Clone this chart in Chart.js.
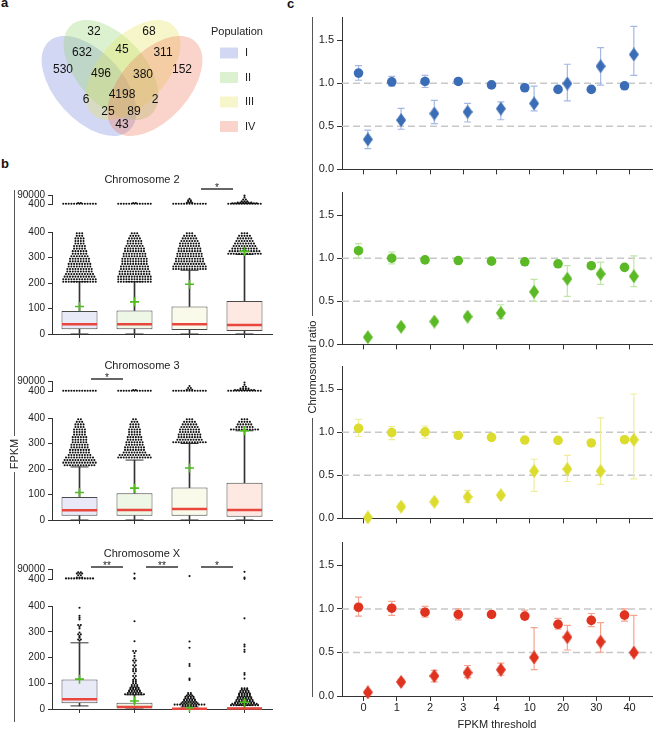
<!DOCTYPE html>
<html><head><meta charset="utf-8">
<script src="https://cdn.jsdelivr.net/npm/chart.js@4.4.1/dist/chart.umd.min.js"></script>
<style>
body{margin:0;background:#fff;width:659px;height:730px;position:relative;overflow:hidden;font-family:'Liberation Sans',Arial,Helvetica,sans-serif;color:#222;}
canvas{position:absolute;}
.plbl{position:absolute;font-weight:bold;font-size:13px;line-height:13px;color:#111;}
</style></head><body>
<div class="plbl" style="left:1px;top:-4px">a</div>
<div class="plbl" style="left:1px;top:157px">b</div>
<div class="plbl" style="left:287px;top:-3px">c</div>
<script>
// ================= DATA =================
// Panel a: Venn
const populations = ['I', 'II', 'III', 'IV'];
const vennCounts = [530, 32, 68, 152, 632, 45, 311, 496, 380, 4198, 6, 2, 25, 89, 43];

// Panel b: box plots (FPKM)
const chr2Q1 = [19, 19, 16, 12];
const chr2Med = [38, 38, 38, 35];
const chr2Q3 = [90, 92, 108, 129];
const chr2Lo = [0, 0, 0, 0];
const chr2Hi = [205, 205, 250, 312];
const chr2Mean = [108, 126, 195, 324];

const chr3Q1 = [17, 17, 17, 13];
const chr3Med = [38, 39, 43, 39];
const chr3Q3 = [90, 105, 127, 146];
const chr3Lo = [0, 0, 0, 0];
const chr3Hi = [208, 235, 300, 350];
const chr3Mean = [108, 125, 204, 350];

const chrXQ1 = [22, 3, 0, 0];
const chrXMed = [38, 8, 1, 2];
const chrXQ3 = [115, 24, 3, 6];
const chrXLo = [12, 0, 0, 0];
const chrXHi = [257, 55, 8, 14];
const chrXMean = [116, 31, 5, 26];

// outlier rows (FPKM bin value) and dot counts per row for chr 2 and 3
const swarmBins = [205, 215, 225, 235, 245, 255, 265, 275, 285, 295, 305, 315, 325, 335, 345, 355, 365, 375, 385, 395];
const chr2Swarm = [
  [13, 13, 12, 11, 10, 10, 9, 9, 8, 8, 7, 6, 6, 5, 5, 4, 4, 4, 3, 3],
  [13, 13, 13, 12, 12, 11, 11, 10, 10, 10, 9, 9, 8, 8, 7, 6, 6, 5, 4, 3],
  [0, 0, 0, 0, 0, 13, 13, 12, 11, 11, 10, 10, 9, 9, 8, 8, 7, 6, 5, 3],
  [0, 0, 0, 0, 0, 0, 0, 0, 0, 0, 0, 13, 12, 10, 9, 8, 7, 6, 5, 3]
];
const chr3Swarm = [
  [0, 12, 13, 12, 11, 9, 8, 8, 7, 7, 6, 6, 6, 5, 5, 5, 4, 4, 3, 2],
  [0, 0, 0, 0, 13, 12, 9, 8, 8, 7, 7, 6, 6, 5, 5, 5, 4, 4, 3, 2],
  [0, 0, 0, 0, 0, 0, 0, 0, 0, 0, 13, 10, 9, 9, 8, 8, 7, 6, 5, 3],
  [0, 0, 0, 0, 0, 0, 0, 0, 0, 0, 0, 0, 0, 0, 0, 11, 7, 6, 5, 3]
];
// chr X outliers: [FPKM, number of dots]
const chrXSwarm = [
  [[265, 1], [270, 2], [277, 1], [283, 1], [290, 2], [297, 1], [313, 1], [320, 1], [326, 2], [348, 1], [355, 1], [362, 1], [393, 1]],
  [[57, 8], [62, 6], [67, 5], [72, 5], [77, 4], [82, 4], [87, 3], [93, 3], [100, 2], [106, 2], [113, 2], [120, 1], [128, 2], [138, 1], [147, 2], [155, 2], [163, 1], [170, 2], [180, 1], [188, 2], [196, 1], [206, 1], [217, 1], [225, 2], [263, 1], [341, 1]],
  [[12, 6], [17, 12], [22, 7], [27, 6], [32, 5], [37, 5], [42, 4], [47, 4], [52, 3], [57, 2], [62, 2], [113, 1], [118, 1], [167, 1], [175, 1], [238, 1], [262, 1]],
  [[15, 11], [20, 10], [25, 8], [30, 7], [35, 7], [40, 6], [45, 6], [50, 5], [55, 5], [60, 5], [65, 4], [70, 4], [75, 3], [80, 3], [118, 1], [133, 1], [140, 1], [222, 1], [230, 1], [243, 1], [250, 1], [352, 1]]
];
// values above 400 (upper broken segment): [FPKM, number of dots]
const chr2Top = [
  [[450, 13], [700, 2]],
  [[450, 13], [700, 2]],
  [[450, 13], [800, 3], [1500, 2], [3500, 2], [9000, 1]],
  [[450, 13], [650, 10], [1000, 6], [2000, 3], [6000, 2], [20000, 1], [60000, 1]]
];
const chr3Top = [
  [[450, 13]],
  [[450, 13], [700, 2]],
  [[450, 13], [800, 3], [2000, 2], [6000, 1]],
  [[450, 13], [700, 8], [1500, 4], [4000, 2], [12000, 1], [40000, 1]]
];
const chrXTop = [
  [[550, 11], [900, 3], [3000, 2], [8000, 3], [15000, 2]],
  [[450, 1], [700, 1], [7400, 1]],
  [[1900, 1]],
  [[430, 1], [900, 1], [19000, 1]]
];
const chr2Sig = [[2, 3, '*']];
const chr3Sig = [[0, 1, '*']];
const chrXSig = [[0, 1, '**'], [1, 2, '**'], [2, 3, '*']];
const yTicksLow = [0, 100, 200, 300, 400];
const yTicksHigh = [400, 90000];

// Panel c: chromosomal ratio
const thresholds = ['0', '1', '2', '3', '4', '10', '20', '30', '40'];
const ratioTicks = [0, 0.5, 1.0, 1.5];
const refLines = [0.5, 1.0];

const blueCirc   = [1.117, 1.015, 1.02, 1.02, 0.98, 0.947, 0.928, 0.928, 0.97];
const blueCircLo = [1.034, 0.965, 0.95, 0.99, 0.96, 0.93, 0.915, 0.915, 0.955];
const blueCircHi = [1.205, 1.08, 1.09, 1.05, 1.0, 0.965, 0.94, 0.94, 0.985];
const blueDiam   = [0.348, 0.572, 0.648, 0.667, 0.705, 0.765, 0.996, 1.197, 1.333];
const blueDiamLo = [0.24, 0.466, 0.53, 0.55, 0.576, 0.68, 0.795, 0.977, 1.09];
const blueDiamHi = [0.455, 0.708, 0.80, 0.765, 0.784, 0.966, 1.22, 1.413, 1.659];

const greenCirc   = [1.087, 1.0, 0.98, 0.973, 0.966, 0.958, 0.935, 0.913, 0.894];
const greenCircLo = [1.0, 0.935, 0.95, 0.955, 0.95, 0.94, 0.91, 0.878, 0.864];
const greenCircHi = [1.17, 1.07, 1.01, 0.99, 0.98, 0.98, 0.96, 0.948, 0.924];
const greenDiam   = [0.083, 0.205, 0.265, 0.322, 0.364, 0.61, 0.761, 0.818, 0.79];
const greenDiamLo = [0.07, 0.18, 0.24, 0.30, 0.30, 0.5, 0.557, 0.697, 0.67];
const greenDiamHi = [0.10, 0.23, 0.29, 0.35, 0.46, 0.754, 0.913, 0.955, 1.026];

const yellowCirc   = [1.045, 0.996, 1.004, 0.962, 0.94, 0.909, 0.905, 0.875, 0.913];
const yellowCircLo = [0.95, 0.913, 0.93, 0.93, 0.91, 0.89, 0.89, 0.845, 0.873];
const yellowCircHi = [1.148, 1.064, 1.072, 0.99, 0.97, 0.93, 0.92, 0.905, 0.953];
const yellowDiam   = [0.011, 0.136, 0.193, 0.25, 0.27, 0.549, 0.572, 0.549, 0.913];
const yellowDiamLo = [0.0, 0.106, 0.163, 0.186, 0.24, 0.314, 0.428, 0.394, 0.458];
const yellowDiamHi = [0.02, 0.165, 0.223, 0.326, 0.30, 0.686, 0.731, 1.167, 1.443];

const redCirc   = [1.019, 1.008, 0.962, 0.936, 0.936, 0.917, 0.823, 0.868, 0.928];
const redCircLo = [0.917, 0.925, 0.906, 0.875, 0.906, 0.88, 0.766, 0.796, 0.86];
const redCircHi = [1.136, 1.087, 1.03, 1.0, 0.966, 0.985, 0.89, 0.947, 1.0];
const redDiam   = [0.042, 0.162, 0.23, 0.268, 0.302, 0.442, 0.675, 0.623, 0.498];
const redDiamLo = [0.025, 0.135, 0.162, 0.21, 0.238, 0.302, 0.528, 0.502, 0.47];
const redDiamHi = [0.06, 0.19, 0.294, 0.35, 0.377, 0.785, 0.811, 0.842, 0.925];

// ================= STYLE / LAYOUT =================
const FONT = "'Liberation Sans', Arial, Helvetica, sans-serif";
Chart.defaults.font.family = FONT;
Chart.defaults.color = '#222';
Chart.defaults.animation = false;
Chart.defaults.events = [];
Chart.defaults.plugins.legend.display = false;
Chart.defaults.plugins.tooltip.enabled = false;

const vennColors = ['rgba(105,125,215,0.30)', 'rgba(140,210,100,0.30)', 'rgba(228,226,80,0.30)', 'rgba(240,110,80,0.30)'];
const vennEllipses = [
  {cx: 89, cy: 86, rx: 60, ry: 34, rot: 48},
  {cx: 111, cy: 70, rx: 60, ry: 34, rot: 48},
  {cx: 133, cy: 70, rx: 60, ry: 34, rot: -48},
  {cx: 155, cy: 86, rx: 60, ry: 34, rot: -48}
];
const vennLabelPos = [[63,70],[94,32],[149,32],[182,70],[82,53],[122,50],[163,53],[101,74],[143,75],[122,95],[86,100],[155,100],[108,112],[134,112],[122,125]];
const boxFills = ['#e8eaf8', '#eef6e6', '#f9faea', '#fde8e2'];
const DOT_STEP = 2.7 / 55;
const DOT_R = 1.05;

function mkCanvas(left, top, w, h) {
  const c = document.createElement('canvas');
  c.width = w; c.height = h;
  c.style.left = left + 'px'; c.style.top = top + 'px';
  c.style.width = w + 'px'; c.style.height = h + 'px';
  document.body.appendChild(c);
  return c;
}

// ---------- axis group labels (brackets) ----------
(function () {
  const cv = mkCanvas(0, 0, 659, 730);
  const g = cv.getContext('2d');
  g.strokeStyle = '#555'; g.lineWidth = 1;
  g.beginPath();
  g.moveTo(14.5, 190); g.lineTo(14.5, 436);
  g.moveTo(14.5, 472); g.lineTo(14.5, 722);
  g.moveTo(312.5, 17); g.lineTo(312.5, 316);
  g.moveTo(312.5, 418); g.lineTo(312.5, 697);
  g.stroke();
  g.fillStyle = '#222';
  g.font = '11px ' + FONT;
  g.textAlign = 'center'; g.textBaseline = 'middle';
  g.save(); g.translate(15, 454); g.rotate(-Math.PI / 2); g.fillText('FPKM', 0, 0); g.restore();
  g.save(); g.translate(313, 367); g.rotate(-Math.PI / 2); g.fillText('Chromosomal ratio', 0, 0); g.restore();
})();

// ---------- Panel a ----------
(function () {
  const cv = mkCanvas(0, 0, 300, 150);
  const vennPlugin = {
    id: 'venn',
    afterDatasetsDraw(chart) {
      const ctx = chart.ctx, xs = chart.scales.x, ys = chart.scales.y;
      const ux = xs.getPixelForValue(1) - xs.getPixelForValue(0);
      const uy = ys.getPixelForValue(1) - ys.getPixelForValue(0);
      ctx.save();
      vennEllipses.forEach((e, i) => {
        ctx.beginPath();
        ctx.ellipse(xs.getPixelForValue(e.cx), ys.getPixelForValue(e.cy), e.rx * ux, e.ry * Math.abs(uy), e.rot * Math.PI / 180, 0, Math.PI * 2);
        ctx.fillStyle = vennColors[i];
        ctx.fill();
      });
      ctx.fillStyle = '#111';
      ctx.font = '12px ' + FONT;
      ctx.textAlign = 'center'; ctx.textBaseline = 'middle';
      vennCounts.forEach((n, i) => {
        ctx.fillText(String(n), xs.getPixelForValue(vennLabelPos[i][0]), ys.getPixelForValue(vennLabelPos[i][1]));
      });
      // legend
      ctx.font = '11px ' + FONT;
      ctx.textAlign = 'left';
      ctx.fillStyle = '#222';
      ctx.fillText('Population', 211, 32);
      populations.forEach((p, i) => {
        const cy = 53 + i * 24.5;
        ctx.fillStyle = vennColors[i];
        ctx.fillRect(220, cy - 5.5, 18, 11);
        ctx.fillStyle = '#222';
        ctx.fillText(p, 245, cy);
      });
      ctx.restore();
    }
  };
  new Chart(cv, {
    type: 'scatter',
    data: {datasets: [{data: []}]},
    options: {
      responsive: false, devicePixelRatio: 1,
      layout: {padding: 0},
      scales: {
        x: {type: 'linear', display: false, min: 0, max: 300},
        y: {type: 'linear', display: false, min: 0, max: 150, reverse: true}
      }
    },
    plugins: [vennPlugin]
  });
})();

// ---------- Panel b ----------
function rowsToPoints(rows, cat) {
  const pts = [];
  rows.forEach(([y, n]) => {
    for (let k = 0; k < n; k++) pts.push({x: cat + (k - (n - 1) / 2) * DOT_STEP, y: y});
  });
  return pts;
}

function sigPlugin(sig, off) {
  return {
    id: 'sig',
    afterDraw(chart) {
      const ctx = chart.ctx, xs = chart.scales.x;
      const y = chart.chartArea.top + off;
      ctx.save();
      ctx.strokeStyle = '#333'; ctx.lineWidth = 1.5;
      ctx.fillStyle = '#222'; ctx.font = '10px ' + FONT;
      ctx.textAlign = 'center'; ctx.textBaseline = 'alphabetic';
      sig.forEach(([a, b, t]) => {
        const cx = xs.getPixelForValue((a + b) / 2);
        ctx.beginPath(); ctx.moveTo(cx - 16, y); ctx.lineTo(cx + 16, y); ctx.stroke();
        ctx.fillText(t, cx, y + 1.5);
      });
      ctx.restore();
    }
  };
}

function boxPanel(cfg) {
  const L = 12, W = 280;
  // upper (broken) segment
  const topH = cfg.topArea[1] - cfg.topArea[0];
  const cvT = mkCanvas(L, cfg.topArea[0] - 26, W, 26 + topH + 6);
  const topPts = [];
  cfg.top.forEach((rows, i) => topPts.push(...rowsToPoints(rows, i)));
  new Chart(cvT, {
    type: 'scatter',
    data: {datasets: [{data: topPts, pointRadius: DOT_R, pointBackgroundColor: '#111', pointBorderWidth: 0, clip: false}]},
    options: {
      responsive: false, devicePixelRatio: 1,
      layout: {padding: {left: 0, right: 20, top: 0, bottom: 6}},
      plugins: {title: {display: true, text: cfg.title, color: '#222', font: {size: 11, weight: 'normal'}, padding: {top: 4.4, bottom: 8.4}}},
      scales: {
        x: {type: 'linear', display: false, offset: false, min: -0.5, max: 3.5},
        y: {
          type: 'logarithmic', min: 400, max: 90000,
          afterBuildTicks: s => { s.ticks = yTicksHigh.map(v => ({value: v})); },
          afterFit: s => { s.width = 40; },
          ticks: {callback: v => String(v), font: {size: 10}, padding: 3, color: '#222', autoSkip: false},
          grid: {drawOnChartArea: false, tickLength: 4, color: '#333'},
          border: {color: '#333'}
        }
      }
    },
    plugins: [sigPlugin(cfg.sig, cfg.sigOff)]
  });

  // lower segment
  const botH = cfg.botArea[1] - cfg.botArea[0];
  const cvB = mkCanvas(L, cfg.botArea[0] - 7, W, 7 + botH + 8);
  const dots = [];
  cfg.swarm.forEach((rows, i) => dots.push(...rowsToPoints(rows, i)));
  const pt = (arr) => arr.map((v, i) => ({x: i, y: v}));
  new Chart(cvB, {
    type: 'bar',
    data: {
      labels: populations,
      datasets: [
        {type: 'scatter', xAxisID: 'xs', data: pt(cfg.mean), pointStyle: 'cross', pointRadius: 4.5, pointBorderColor: '#4fbd1d', pointBorderWidth: 1.6, clip: false},
        {type: 'scatter', xAxisID: 'xs', data: pt(cfg.med), pointStyle: 'line', pointRadius: 17.5, pointBorderColor: '#e8473e', pointBorderWidth: 2.5, clip: false},
        {type: 'scatter', xAxisID: 'xs', data: dots, pointRadius: DOT_R, pointBackgroundColor: '#111', pointBorderWidth: 0, clip: false},
        {type: 'scatter', xAxisID: 'xs', data: pt(cfg.hi).concat(pt(cfg.lo)), pointStyle: 'line', pointRadius: 9, pointBorderColor: '#333', pointBorderWidth: 1, clip: false},
        {type: 'bar', data: cfg.q1.map((v, i) => [v, cfg.q3[i]]), backgroundColor: boxFills, borderColor: '#4a4a4a', borderWidth: 1, borderSkipped: false, barPercentage: 0.655, categoryPercentage: 1, grouped: false},
        {type: 'bar', data: cfg.q3.map((v, i) => [v, cfg.hi[i]]), backgroundColor: '#333', barThickness: 1, grouped: false},
        {type: 'bar', data: cfg.lo.map((v, i) => [v, cfg.q1[i]]), backgroundColor: '#333', barThickness: 1, grouped: false}
      ]
    },
    options: {
      responsive: false, devicePixelRatio: 1,
      layout: {padding: {left: 0, right: 20, top: 7, bottom: 0}},
      scales: {
        x: {
          type: 'category', offset: true,
          afterFit: s => { s.height = 8; },
          ticks: {display: false},
          grid: {drawOnChartArea: false, offset: false, tickLength: 4, color: '#333'},
          border: {color: '#333'}
        },
        xs: {type: 'linear', display: false, offset: false, grace: 0, min: -0.5, max: 3.5},
        y: {
          type: 'linear', min: 0, max: 400,
          afterBuildTicks: s => { s.ticks = yTicksLow.map(v => ({value: v})); },
          afterFit: s => { s.width = 40; },
          ticks: {font: {size: 10}, padding: 3, color: '#222'},
          grid: {drawOnChartArea: false, tickLength: 4, color: '#333'},
          border: {color: '#333'}
        }
      }
    }
  });
}

boxPanel({title: 'Chromosome 2', topArea: [195, 207], botArea: [219, 346],
  q1: chr2Q1, med: chr2Med, q3: chr2Q3, lo: chr2Lo, hi: chr2Hi, mean: chr2Mean,
  swarm: chr2Swarm.map(c => swarmBins.map((b, i) => [b, c[i]])), top: chr2Top, sig: chr2Sig, sigOff: -6});
boxPanel({title: 'Chromosome 3', topArea: [381, 394], botArea: [405, 532],
  q1: chr3Q1, med: chr3Med, q3: chr3Q3, lo: chr3Lo, hi: chr3Hi, mean: chr3Mean,
  swarm: chr3Swarm.map(c => swarmBins.map((b, i) => [b, c[i]])), top: chr3Top, sig: chr3Sig, sigOff: -2});
boxPanel({title: 'Chromosome X', topArea: [569, 582], botArea: [593, 721],
  q1: chrXQ1, med: chrXMed, q3: chrXQ3, lo: chrXLo, hi: chrXHi, mean: chrXMean,
  swarm: chrXSwarm, top: chrXTop, sig: chrXSig, sigOff: -2});

// ---------- Panel c ----------
function diamondImg(color) {
  const c = document.createElement('canvas');
  c.width = 10; c.height = 14;
  const g = c.getContext('2d');
  g.fillStyle = color;
  g.beginPath(); g.moveTo(5, 0); g.lineTo(10, 7); g.lineTo(5, 14); g.lineTo(0, 7); g.closePath(); g.fill();
  return c;
}

function ratioChart(cfg) {
  const areaH = 155;
  const bottomH = cfg.showX ? 36 : 8;
  const cv = mkCanvas(300, cfg.top - 8, 359, 8 + areaH + bottomH);
  const CO = -0.15, DO = 0.13;
  const errPlugin = {
    id: 'err',
    beforeDatasetsDraw(chart) {
      const ctx = chart.ctx, xs = chart.scales.x, ys = chart.scales.y, a = chart.chartArea;
      ctx.save();
      ctx.strokeStyle = '#c8c8c8'; ctx.lineWidth = 1.5; ctx.setLineDash([7, 4]);
      refLines.forEach(v => {
        const y = ys.getPixelForValue(v);
        ctx.beginPath(); ctx.moveTo(a.left, y); ctx.lineTo(a.right, y); ctx.stroke();
      });
      ctx.setLineDash([]);
      ctx.strokeStyle = cfg.err; ctx.lineWidth = 1.2;
      [[CO, cfg.cLo, cfg.cHi], [DO, cfg.dLo, cfg.dHi]].forEach(([o, lo, hi]) => {
        lo.forEach((l, i) => {
          const x = xs.getPixelForValue(i + o);
          const y1 = ys.getPixelForValue(l), y2 = ys.getPixelForValue(hi[i]);
          ctx.beginPath();
          ctx.moveTo(x, y1); ctx.lineTo(x, y2);
          ctx.moveTo(x - 3.5, y1); ctx.lineTo(x + 3.5, y1);
          ctx.moveTo(x - 3.5, y2); ctx.lineTo(x + 3.5, y2);
          ctx.stroke();
        });
      });
      ctx.restore();
    }
  };
  new Chart(cv, {
    type: 'scatter',
    data: {datasets: [
      {data: cfg.c.map((v, i) => ({x: i + CO, y: v})), pointStyle: 'circle', pointRadius: 4.8, pointBackgroundColor: cfg.col, pointBorderWidth: 0, clip: false},
      {data: cfg.d.map((v, i) => ({x: i + DO, y: v})), pointStyle: diamondImg(cfg.col), pointRadius: 6, clip: false}
    ]},
    options: {
      responsive: false, devicePixelRatio: 1,
      layout: {padding: {left: 0, right: 0, top: 8, bottom: 0}},
      scales: {
        x: {
          type: 'linear', min: -0.647, max: 8.676,
          afterBuildTicks: s => { s.ticks = thresholds.map((t, i) => ({value: i})); },
          afterFit: s => { s.height = bottomH; },
          ticks: {display: cfg.showX, callback: v => thresholds[v], font: {size: 11}, padding: 0, color: '#222', autoSkip: false, maxRotation: 0},
          title: {display: cfg.showX, text: 'FPKM threshold', font: {size: 11}, color: '#222', padding: {top: 0, bottom: 0}},
          grid: {drawOnChartArea: false, tickLength: 5, color: '#333'},
          border: {color: '#333'}
        },
        y: {
          type: 'linear', min: 0, max: 1.761,
          afterBuildTicks: s => { s.ticks = ratioTicks.map(v => ({value: v})); },
          afterFit: s => { s.width = 42; },
          ticks: {callback: v => v.toFixed(1), font: {size: 11}, padding: 3, color: '#222'},
          grid: {drawOnChartArea: false, tickLength: 5, color: '#333'},
          border: {color: '#333'}
        }
      }
    },
    plugins: [errPlugin]
  });
}

ratioChart({top: 16, c: blueCirc, cLo: blueCircLo, cHi: blueCircHi, d: blueDiam, dLo: blueDiamLo, dHi: blueDiamHi, col: '#3a6db5', err: '#a5b8e3', showX: false});
ratioChart({top: 191, c: greenCirc, cLo: greenCircLo, cHi: greenCircHi, d: greenDiam, dLo: greenDiamLo, dHi: greenDiamHi, col: '#5ab924', err: '#bfe6a8', showX: false});
ratioChart({top: 365, c: yellowCirc, cLo: yellowCircLo, cHi: yellowCircHi, d: yellowDiam, dLo: yellowDiamLo, dHi: yellowDiamHi, col: '#dcdc2e', err: '#efed9c', showX: false});
ratioChart({top: 541, c: redCirc, cLo: redCircLo, cHi: redCircHi, d: redDiam, dLo: redDiamLo, dHi: redDiamHi, col: '#df3320', err: '#f5a48f', showX: true});
</script>
</body></html>
